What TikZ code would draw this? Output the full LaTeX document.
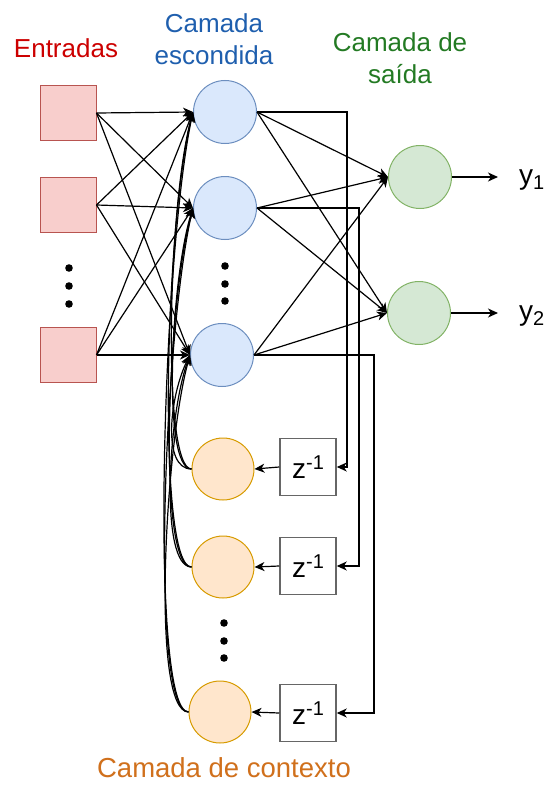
\documentclass[tikz,border=0pt]{standalone}
\usepackage{fontspec}
\setmainfont{Liberation Sans}
\usetikzlibrary{arrows.meta}
\definecolor{inFill}{HTML}{F8CECC}\definecolor{inStroke}{HTML}{B85450}
\definecolor{hidFill}{HTML}{DAE8FC}\definecolor{hidStroke}{HTML}{6C8EBF}
\definecolor{outFill}{HTML}{D5E8D4}\definecolor{outStroke}{HTML}{82B366}
\definecolor{ctxFill}{HTML}{FFE6CC}\definecolor{ctxStroke}{HTML}{D79B00}
\definecolor{boxStroke}{HTML}{666666}
\definecolor{tRed}{HTML}{CC0000}\definecolor{tBlue}{HTML}{1F5FAE}
\definecolor{tGreen}{HTML}{237A23}\definecolor{tOrange}{HTML}{D0701C}
\newcommand{\zsup}{z\raisebox{9pt}{\fontsize{20}{20}\selectfont -1}}
\newcommand{\ysub}[1]{y\raisebox{-5pt}{\fontsize{20}{20}\selectfont #1}}
\begin{document}
\begin{tikzpicture}[x=1pt,y=-1pt,
  arr/.style={draw=black, line width=1.2pt, -{Stealth[length=10pt,width=9pt,inset=3pt]}},
  inp/.style={draw=inStroke, fill=inFill, minimum width=56pt, minimum height=55pt, inner sep=0pt, line width=1pt},
  hid/.style={circle, draw=hidStroke, fill=hidFill, minimum size=63pt, inner sep=0pt, line width=1pt},
  outn/.style={circle, draw=outStroke, fill=outFill, minimum size=63pt, inner sep=0pt, line width=1pt},
  ctx/.style={circle, draw=ctxStroke, fill=ctxFill, minimum size=62pt, inner sep=0pt, line width=1pt},
  zbox/.style={draw=boxStroke, fill=white, minimum width=56pt, minimum height=57pt, inner sep=0pt, line width=1.5pt, font=\fontsize{28}{32}\selectfont},
  lbl/.style={font=\fontsize{26}{32}\selectfont, inner sep=0pt, align=center},
  dotf/.style={fill=black}
]
\useasboundingbox (0,0) rectangle (547,792);

% labels
\node[lbl, text=tRed, anchor=base] (lin) at (66,57) {Entradas};
\node[lbl, text=tBlue, anchor=north] (lhid) at (214,13) {Camada\\escondida};
\node[lbl, text=tGreen, anchor=north] (lout) at (400,32) {Camada de\\saída};
\node[lbl, text=tOrange, anchor=base, font=\fontsize{27.5}{32}\selectfont] (lctx) at (224,777) {Camada de contexto};

% input nodes
\node[inp] (i1) at (68,113) {};
\node[inp] (i2) at (68,205) {};
\node[inp] (i3) at (68,355) {};
% hidden
\node[hid] (h1) at (225,112) {};
\node[hid] (h2) at (225,208) {};
\node[hid] (h3) at (222,355) {};
% output
\node[outn] (o1) at (420,177) {};
\node[outn] (o2) at (419,313) {};
% context
\node[ctx] (c1) at (223,469) {};
\node[ctx] (c2) at (223,567) {};
\node[ctx] (c3) at (220,712) {};
% delay boxes
\node[zbox] (b1) at (308,467) {\zsup};
\node[zbox] (b2) at (308,566) {\zsup};
\node[zbox] (b3) at (308,713) {\zsup};

% ellipsis dots
\foreach \y in {268,286,304} \fill[dotf] (69,\y) circle (3.8);
\foreach \y in {266,284,301} \fill[dotf] (225,\y) circle (3.8);
\foreach \y in {623,641,658} \fill[dotf] (224,\y) circle (3.8);

% input -> hidden
\foreach \i in {1,2,3}{\foreach \h in {1,2,3}{\draw[arr] (i\i.east) -- (h\h.west);}}
% hidden -> output
\foreach \h in {1,2,3}{\foreach \o in {1,2}{\draw[arr] (h\h.east) -- (o\o.west);}}

% outputs
\coordinate (e1) at (498,177);
\coordinate (e2) at (498,313);
\draw[arr] (o1.east) -- (e1);
\draw[arr] (o2.east) -- (e2);
\node[lbl, anchor=base west, font=\fontsize{28}{32}\selectfont] (y1) at (519,184) {\ysub{1}};
\node[lbl, anchor=base west, font=\fontsize{28}{32}\selectfont] (y2) at (519,320) {\ysub{2}};

% feedback to delays
\draw[arr] (h1.east) -- ++(90,0) |- (b1.east);
\draw[arr] (h2.east) -- ++(102,0) |- (b2.east);
\draw[arr] (h3.east) -- ++(120,0) |- (b3.east);
% delays -> context
\draw[arr] (b1.west) -- (c1.east);
\draw[arr] (b2.west) -- (c2.east);
\draw[arr] (b3.west) -- (c3.east);

% context -> hidden (curved)
\draw[arr] (c1.west) .. controls +(-30,0) and +(-25,90) .. (h1.west);
\draw[arr] (c1.west) .. controls +(-30,0) and +(-22,70) .. (h2.west);
\draw[arr] (c1.west) .. controls +(-30,0) and +(-20,40) .. (h3.west);
\draw[arr] (c2.west) .. controls +(-35,0) and +(-28,110) .. (h1.west);
\draw[arr] (c2.west) .. controls +(-35,0) and +(-25,90) .. (h2.west);
\draw[arr] (c2.west) .. controls +(-32,0) and +(-22,60) .. (h3.west);
\draw[arr] (c3.west) .. controls +(-40,0) and +(-30,140) .. (h1.west);
\draw[arr] (c3.west) .. controls +(-40,0) and +(-28,120) .. (h2.west);
\draw[arr] (c3.west) .. controls +(-38,0) and +(-25,90) .. (h3.west);
\end{tikzpicture}
\end{document}
